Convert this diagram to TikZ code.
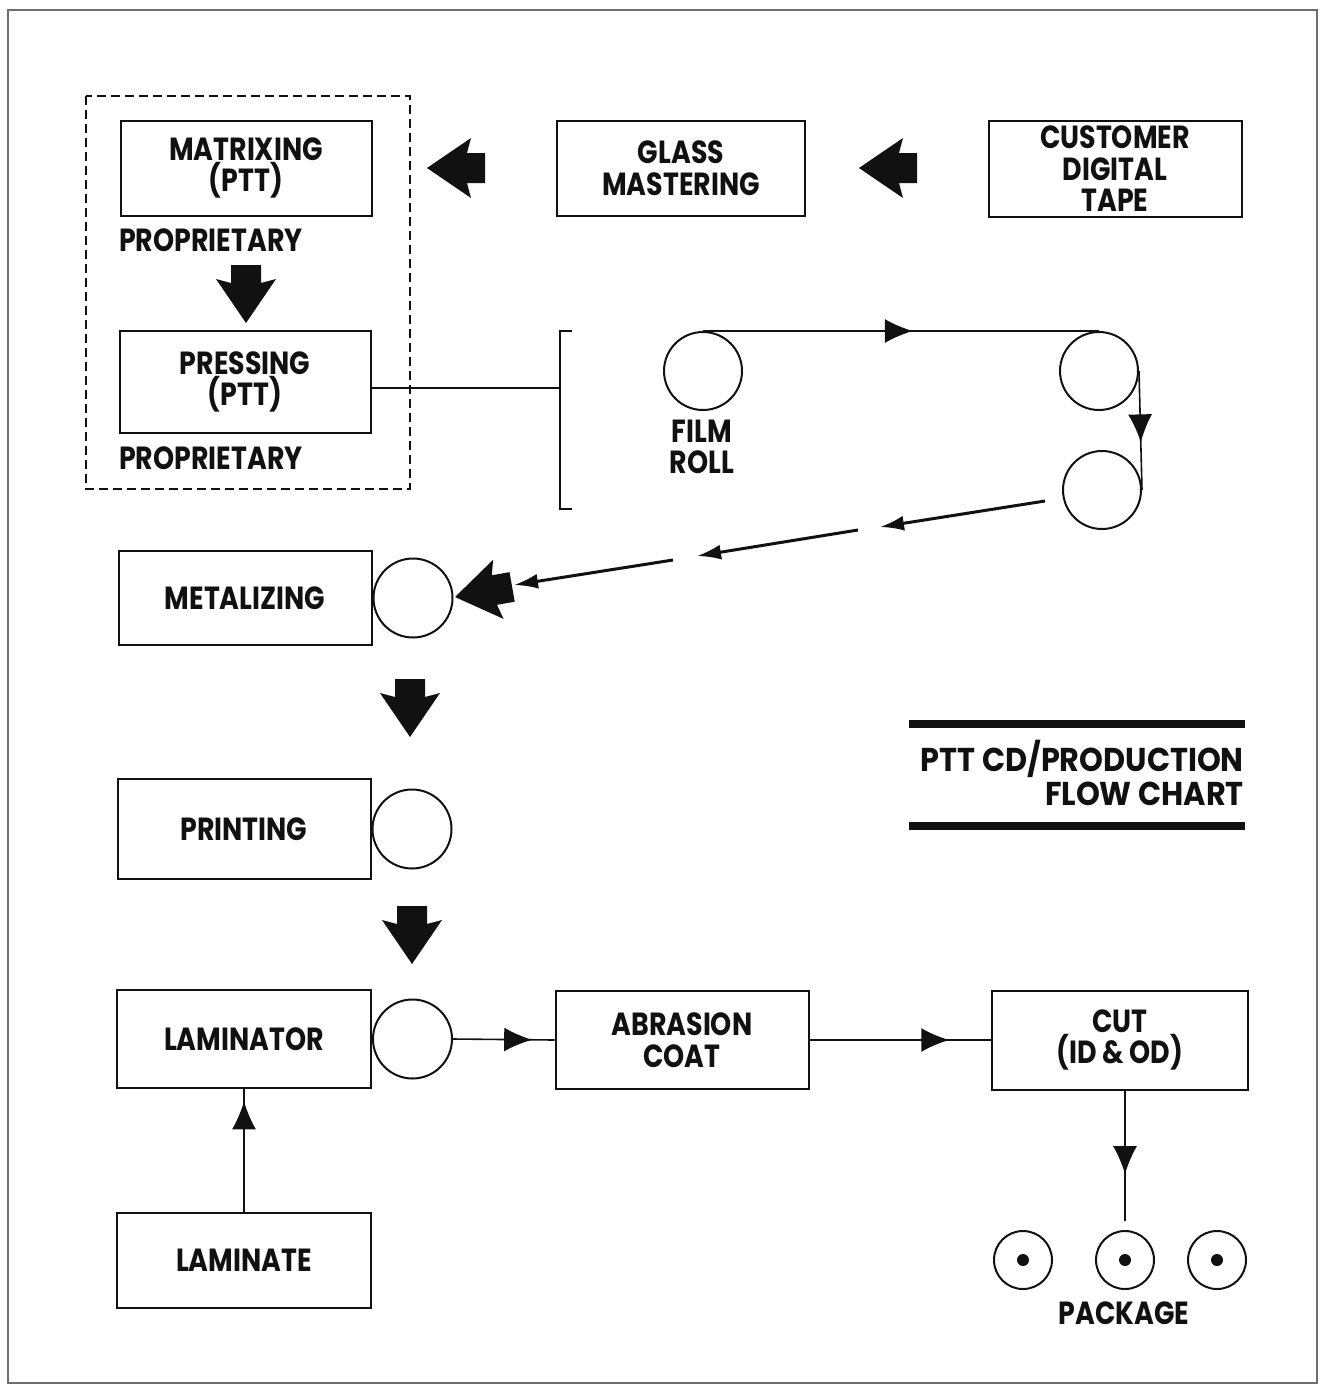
\documentclass[tikz,border=0pt]{standalone}
\usepackage{fontspec}
\setmainfont{Poppins}[FakeStretch=0.84]
\newfontfamily\titlefont{Poppins}[FakeStretch=0.92]
\usetikzlibrary{arrows.meta,positioning,calc,decorations.markings}
\definecolor{ink}{HTML}{111111}
\definecolor{frame}{HTML}{6B6F6E}
\tikzset{
  x=1pt, y=-1pt,
  labelfont/.style={font=\bfseries\fontsize{32}{31.5}\selectfont},
  stage/.style={
    draw=ink, line width=2pt, fill=white, text=ink, align=center,
    inner sep=0pt, minimum width=252pt, minimum height=96pt, labelfont
  },
  tag/.style={labelfont, text=ink, inner sep=0pt, align=center},
  reel/.style={circle, draw=ink, line width=2pt, inner sep=0pt, minimum size=79pt},
  disc/.style={circle, draw=ink, line width=2pt, inner sep=0pt, minimum size=58pt},
  flow/.style={draw=ink, line width=1.6pt},
  midarrow/.style={flow, postaction={decorate},
    decoration={markings, mark=at position #1 with {\arrow{Latex[length=28pt,width=24pt]}}}},
  feed/.style={draw=ink, line width=3pt, -{Latex[length=24pt,width=15pt]}},
  dashbox/.style={draw=ink, line width=2pt, dash pattern=on 9pt off 5pt},
  bar/.style={draw=ink, line width=8pt},
  bigarrow/.pic={
    \fill[ink] (0,0) -- (44,-30) -- (40,-15) -- (58,-15) -- (58,15) -- (40,15) -- (44,30) -- cycle;
  }
}

\begin{document}
\begin{tikzpicture}
  \useasboundingbox (0,0) rectangle (1323,1385);
  \draw[frame, line width=1.5pt] (8,10) rectangle (1317,1383);

  % top row
  \node[stage, minimum width=251pt, minimum height=95pt] (matrix) at (246,168) {MATRIXING\\(PTT)};
  \node[stage, minimum width=248pt, minimum height=95pt] (glass) at (681,168) {GLASS\\MASTERING};
  \node[stage, minimum width=253pt] (tape) at (1115,169) {CUSTOMER\\DIGITAL\\TAPE};
  \pic at (427,168) {bigarrow};
  \pic at (859,168) {bigarrow};

  % proprietary block
  \node[tag, anchor=west] (prop1) at (119,240) {PROPRIETARY};
  \pic[rotate=90] at (246,323) {bigarrow};
  \node[stage, minimum width=251pt, minimum height=102pt] (pressing) at (245,382) {PRESSING\\(PTT)};
  \node[tag, anchor=west] (prop2) at (119,458) {PROPRIETARY};
  \draw[dashbox] (86,96) rectangle (410,489);

  % film roll path
  \coordinate (brk) at (560,388);
  \draw[flow] (pressing.east |- brk) -- (brk);
  \draw[flow] (572,331) -- (560,331) -- (560,509) -- (572,509);
  \node[reel, minimum size=78pt] (filma) at (703,371) {};
  \node[reel, minimum size=78pt] (filmb) at (1099,371) {};
  \node[reel, minimum size=78pt] (filmc) at (1102,490) {};
  \node[tag] (filmlbl) at (702,447) {FILM\\ROLL};
  \draw[midarrow=0.53] (filma.north) -- (filmb.north);
  \draw[midarrow=0.6] (filmb.east) -- (filmc.east);

  % feed back to metalizing
  \coordinate (s1a) at (1045,501);
  \coordinate (s1b) at (880,527);
  \coordinate (s2a) at (858,530);
  \coordinate (s2b) at (697,556);
  \coordinate (s3a) at (673,560);
  \coordinate (s3b) at (514,585);
  \draw[feed] (s1a) -- (s1b);
  \draw[feed] (s2a) -- (s2b);
  \draw[feed] (s3a) -- (s3b);

  % left column
  \node[stage, minimum width=253pt, minimum height=94pt] (metal) at (245,598) {METALIZING};
  \node[reel, right=0pt of metal] (metalreel) {};
  \pic[rotate=10] at (455,597) {bigarrow};
  \pic[rotate=90] at (410,737) {bigarrow};
  \node[stage, minimum width=253pt, minimum height=100pt] (print) at (244,829) {PRINTING};
  \node[reel, right=0pt of print] (printreel) {};
  \pic[rotate=90] at (412,964) {bigarrow};
  \node[stage, minimum width=254pt, minimum height=98pt] (lamin) at (244,1039) {LAMINATOR};
  \node[reel, right=0pt of lamin] (laminreel) {};
  \node[stage, minimum width=254pt, minimum height=95pt] (laminate) at (244,1260) {LAMINATE};
  \draw[midarrow=0.9] (laminate.north) -- (lamin.south);

  % bottom row
  \node[stage, minimum width=253pt, minimum height=98pt] (abras) at (682,1040) {ABRASION\\COAT};
  \node[stage, minimum width=256pt, minimum height=99pt] (cut) at (1120,1040) {CUT\\(ID \& OD)};
  \draw[midarrow=0.78] (laminreel.east) -- (abras.west);
  \draw[midarrow=0.77] (abras.east) -- (cut.west);

  % package
  \foreach \n/\x in {pkga/1023, pkgb/1125, pkgc/1217} {
    \node[disc] (\n) at (\x,1260) {};
    \fill[ink] (\n.center) circle (6pt);
  }
  \node[tag] (pkglbl) at (1124,1313) {PACKAGE};
  \draw[midarrow=0.6, shorten >=9pt] (cut.south -| pkgb) -- (pkgb.north);

  % title
  \draw[bar] (909,724) -- (1245,724);
  \draw[bar] (909,826) -- (1245,826);
  \node[tag, align=right, anchor=east, font=\titlefont\bfseries\fontsize{33}{34}\selectfont] (title) at (1244,773) {PTT CD/PRODUCTION\\FLOW CHART};
\end{tikzpicture}
\end{document}
